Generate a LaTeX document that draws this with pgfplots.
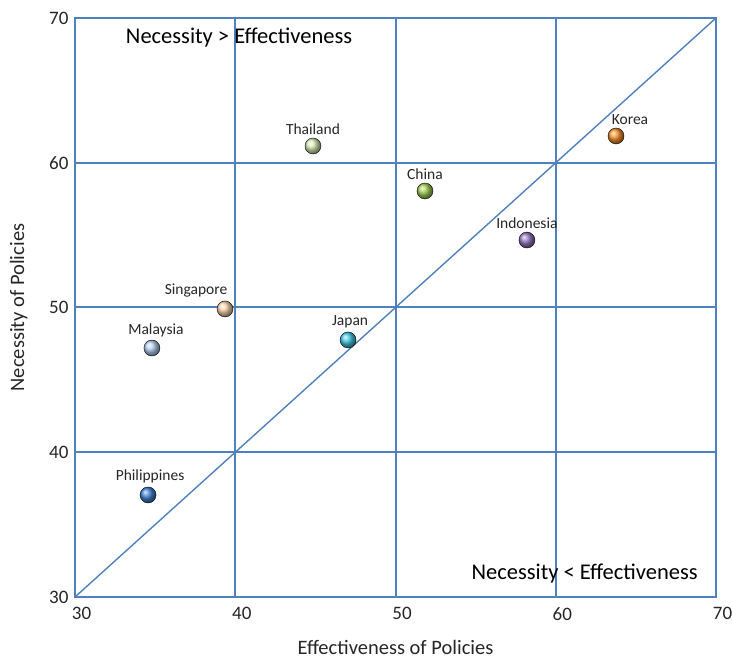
\documentclass[border=0pt]{standalone}
\usepackage{pgfplots}
\pgfplotsset{compat=1.18}
\usepackage{fontspec}
\setmainfont{Carlito}
\definecolor{gridblue}{HTML}{4F81BD}
\definecolor{cThai}{HTML}{DCEEBA}
\definecolor{cKorea}{HTML}{FF9530}
\definecolor{cChina}{HTML}{A8D458}
\definecolor{cIndo}{HTML}{9878C4}
\definecolor{cSing}{HTML}{FFD8AE}
\definecolor{cMalay}{HTML}{B8D4F6}
\definecolor{cJapan}{HTML}{46CCE8}
\definecolor{cPhil}{HTML}{4486D6}
\begin{document}
\begin{tikzpicture}
\begin{axis}[
  name=ax,
  scale only axis,
  width=641pt, height=579pt,
  xmin=30, xmax=70, ymin=30, ymax=70,
  xtick={30,40,50,60,70}, ytick={30,40,50,60,70},
  major tick length=0pt,
  grid=major,
  grid style={gridblue, line width=2pt},
  axis line style={gridblue, line width=2pt},
  /pgf/number format/assume math mode=true,
  tick label style={font=\fontsize{19}{22}\selectfont, text=black!85},
  xticklabel style={anchor=north, xshift=6.5pt, yshift=-7pt},
  yticklabel style={xshift=-3pt},
  xlabel={Effectiveness of Policies},
  ylabel={Necessity of Policies},
  label style={font=\fontsize{20.5}{24}\selectfont, text=black!85},
  xlabel style={yshift=-13pt},
  ylabel style={yshift=15pt},
  clip=false,
]
\addplot[gridblue, line width=1.4pt] coordinates {(30,30) (70,70)};
\newcommand{\country}[5]{%
  \addplot[only marks, mark=ball, mark size=8pt, mark options={ball color=#1}]
    coordinates {(#2,#3)} node[pos=0, above=8pt, xshift=#5, font=\fontsize{15.5}{18}\selectfont, text=black!85] {#4};}
\country{cThai}{44.85}{61.16}{Thailand}{0pt}
\country{cKorea}{63.76}{61.85}{Korea}{14pt}
\country{cChina}{51.84}{58.05}{China}{0pt}
\country{cIndo}{58.2}{54.66}{Indonesia}{0pt}
\country{cSing}{39.36}{49.9}{Singapore}{-29pt}
\country{cMalay}{34.8}{47.2}{Malaysia}{4pt}
\country{cJapan}{47.04}{47.76}{Japan}{2pt}
\country{cPhil}{34.56}{37.05}{Philippines}{2pt}
\node[font=\fontsize{22.5}{26}\selectfont, anchor=west] at (axis description cs:0.074,0.966) {Necessity > Effectiveness};
\node[font=\fontsize{22.5}{26}\selectfont, anchor=east] at (axis description cs:0.977,0.040) {Necessity < Effectiveness};
\end{axis}
\pgfresetboundingbox
\path[use as bounding box] ([shift={(-75pt,-64pt)}]ax.south west) rectangle ([shift={(16pt,18pt)}]ax.north east);
\end{tikzpicture}
\end{document}
